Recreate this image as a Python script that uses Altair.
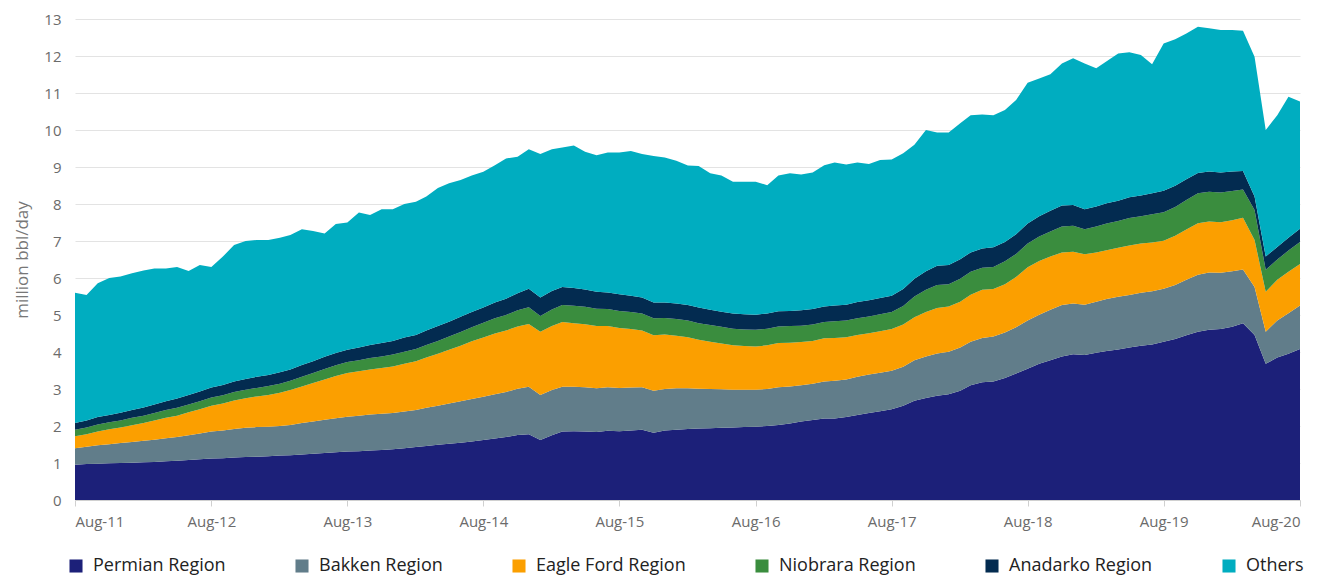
import altair as alt
import pandas as pd

regions = ["Permian Region", "Bakken Region", "Eagle Ford Region",
           "Niobrara Region", "Anadarko Region", "Others"]
colors = ["#1c2079", "#617d8a", "#fb9f00", "#3a8d3e", "#032b50", "#00adc0"]

# monthly, Aug-2011 .. Aug-2020 (million bbl/day)
permian = [0.95,0.97,0.98,0.99,1.0,1.01,1.02,1.03,1.05,1.06,1.08,1.1,
           1.12,1.13,1.15,1.16,1.17,1.18,1.2,1.21,1.23,1.25,1.27,1.29,
           1.31,1.32,1.34,1.35,1.37,1.4,1.43,1.46,1.49,1.52,1.55,1.58,
           1.62,1.66,1.7,1.76,1.78,1.62,1.75,1.85,1.86,1.85,1.84,1.87,
           1.86,1.88,1.9,1.82,1.88,1.9,1.92,1.93,1.94,1.95,1.96,1.97,
           1.98,2.0,2.03,2.07,2.12,2.16,2.2,2.2,2.24,2.3,2.35,2.4,
           2.45,2.55,2.68,2.76,2.82,2.86,2.95,3.1,3.18,3.2,3.3,3.42,
           3.55,3.68,3.78,3.88,3.94,3.92,3.98,4.03,4.07,4.12,4.17,4.2,
           4.28,4.35,4.45,4.55,4.6,4.62,4.68,4.78,4.46,3.68,3.85,3.95,4.08]
bakken = [0.45,0.47,0.5,0.52,0.54,0.56,0.58,0.6,0.62,0.64,0.67,0.7,
          0.73,0.75,0.77,0.79,0.8,0.8,0.8,0.82,0.85,0.87,0.9,0.92,
          0.94,0.96,0.97,0.98,0.98,0.99,1.0,1.03,1.06,1.09,1.12,1.15,
          1.17,1.2,1.22,1.25,1.28,1.22,1.22,1.21,1.2,1.2,1.18,1.18,
          1.17,1.16,1.15,1.13,1.12,1.12,1.1,1.08,1.06,1.04,1.02,1.01,
          1.0,1.0,1.02,1.0,0.98,0.98,1.0,1.02,1.02,1.03,1.04,1.04,
          1.04,1.05,1.1,1.12,1.14,1.15,1.17,1.18,1.2,1.22,1.23,1.25,
          1.3,1.33,1.36,1.39,1.37,1.36,1.38,1.4,1.42,1.42,1.43,1.44,
          1.43,1.46,1.5,1.54,1.55,1.52,1.5,1.45,1.3,0.87,1.0,1.1,1.18]
eagle_ford = [0.32,0.34,0.37,0.4,0.42,0.45,0.48,0.52,0.55,0.58,0.62,0.65,
              0.7,0.73,0.77,0.8,0.83,0.86,0.9,0.94,0.99,1.04,1.09,1.14,
              1.18,1.2,1.22,1.24,1.26,1.29,1.32,1.36,1.4,1.45,1.5,1.56,
              1.6,1.64,1.66,1.68,1.7,1.71,1.73,1.75,1.72,1.7,1.68,1.65,
              1.62,1.58,1.53,1.5,1.47,1.42,1.38,1.32,1.28,1.24,1.2,1.18,
              1.17,1.18,1.19,1.18,1.17,1.16,1.17,1.16,1.14,1.13,1.12,1.12,
              1.13,1.14,1.16,1.2,1.23,1.22,1.24,1.27,1.3,1.28,1.3,1.36,
              1.44,1.45,1.44,1.42,1.4,1.36,1.33,1.32,1.33,1.34,1.33,1.32,
              1.3,1.33,1.36,1.39,1.38,1.37,1.38,1.4,1.27,1.08,1.1,1.12,1.12]
niobrara = [0.18,0.18,0.19,0.19,0.19,0.2,0.2,0.2,0.21,0.21,0.21,0.22,
            0.22,0.22,0.23,0.23,0.23,0.24,0.24,0.25,0.26,0.27,0.28,0.29,
            0.3,0.3,0.31,0.31,0.32,0.33,0.33,0.34,0.35,0.36,0.37,0.38,
            0.4,0.41,0.42,0.44,0.45,0.42,0.45,0.46,0.47,0.47,0.47,0.46,
            0.46,0.46,0.46,0.46,0.45,0.45,0.45,0.45,0.45,0.45,0.45,0.45,
            0.45,0.45,0.45,0.45,0.44,0.44,0.44,0.45,0.45,0.45,0.45,0.46,
            0.46,0.5,0.56,0.6,0.62,0.6,0.62,0.62,0.6,0.6,0.62,0.62,
            0.64,0.66,0.68,0.7,0.7,0.68,0.7,0.72,0.72,0.74,0.74,0.76,
            0.77,0.78,0.8,0.81,0.8,0.8,0.79,0.76,0.81,0.59,0.55,0.57,0.59]
anadarko = [0.18,0.19,0.2,0.2,0.21,0.21,0.22,0.23,0.24,0.25,0.26,0.26,
            0.27,0.28,0.28,0.29,0.3,0.3,0.31,0.31,0.32,0.32,0.33,0.33,
            0.33,0.34,0.35,0.36,0.37,0.38,0.38,0.39,0.4,0.4,0.41,0.41,
            0.41,0.43,0.44,0.46,0.5,0.5,0.5,0.49,0.48,0.47,0.46,0.45,
            0.45,0.44,0.43,0.43,0.42,0.42,0.42,0.42,0.41,0.41,0.41,0.41,
            0.41,0.41,0.41,0.41,0.42,0.42,0.42,0.43,0.43,0.44,0.44,0.44,
            0.44,0.46,0.48,0.5,0.52,0.52,0.53,0.52,0.52,0.53,0.52,0.53,
            0.54,0.55,0.56,0.57,0.56,0.54,0.54,0.55,0.55,0.56,0.56,0.57,
            0.58,0.57,0.56,0.55,0.55,0.54,0.53,0.5,0.36,0.36,0.34,0.35,0.36]
others = [3.52,3.39,3.62,3.70,3.68,3.70,3.70,3.68,3.59,3.56,3.35,3.42,
          3.26,3.47,3.69,3.73,3.70,3.65,3.64,3.63,3.67,3.52,3.33,3.49,
          3.44,3.65,3.51,3.62,3.56,3.61,3.60,3.62,3.73,3.74,3.70,3.69,
          3.67,3.71,3.79,3.69,3.77,3.88,3.83,3.77,3.85,3.72,3.69,3.78,
          3.83,3.91,3.88,3.96,3.92,3.86,3.77,3.83,3.69,3.68,3.56,3.58,
          3.59,3.47,3.67,3.72,3.67,3.69,3.82,3.86,3.79,3.77,3.68,3.73,
          3.68,3.67,3.62,3.82,3.60,3.58,3.67,3.71,3.62,3.57,3.57,3.63,
          3.81,3.72,3.69,3.84,3.97,3.94,3.74,3.84,3.98,3.92,3.80,3.49,
          3.98,3.96,3.94,3.95,3.87,3.85,3.82,3.79,3.78,3.42,3.56,3.81,3.44]

tick_years = list(range(2011, 2021))

months = []
for k in range(len(permian)):
    y = 2011 + (7 + k) // 12
    m = (7 + k) % 12 + 1
    months.append(f"{y}-{m:02d}-01")

series = [permian, bakken, eagle_ford, niobrara, anadarko, others]
rows = []
for idx, (name, vals) in enumerate(zip(regions, series)):
    for mo, v in zip(months, vals):
        rows.append({"month": mo, "region": name, "value": v, "order": idx})
df = pd.DataFrame(rows)

FONT = "Open Sans"

chart = alt.Chart(df).mark_area(interpolate="linear").encode(
    x=alt.X(
        "month:T",
        scale=alt.Scale(
            type="utc",
            domain=[alt.DateTime(year=2011, month=8, date=1, utc=True),
                    alt.DateTime(year=2020, month=8, date=1, utc=True)],
            nice=False,
        ),
        axis=alt.Axis(
            title=None,
            values=[alt.DateTime(year=yy, month=8, date=1, utc=True) for yy in tick_years],
            format="%b-%y",
            labelFont=FONT, labelFontSize=15, labelColor="#6b6b6b",
            labelPadding=8, tickColor="#d0d0d0", tickSize=6,
            domainColor="#d0d0d0", grid=False,
        ),
    ),
    y=alt.Y(
        "value:Q",
        stack="zero",
        scale=alt.Scale(domain=[0, 13], nice=False),
        axis=alt.Axis(
            title="million bbl/day",
            values=list(range(0, 14)),
            titleFont=FONT, titleFontSize=17, titleFontWeight="normal",
            titleColor="#777777", titlePadding=12,
            labelFont=FONT, labelFontSize=15, labelColor="#6b6b6b",
            labelPadding=14, domain=False, ticks=False,
            gridColor="#e3e3e3", gridWidth=1.2,
        ),
    ),
    color=alt.Color(
        "region:N",
        scale=alt.Scale(domain=regions, range=colors),
        legend=alt.Legend(
            title=None, orient="none", direction="horizontal",
            legendX=-8, legendY=538,
            symbolType="square", symbolSize=170, symbolStrokeWidth=0,
            labelFont=FONT, labelFontSize=18, labelColor="#222222",
            columnPadding=67, labelOffset=8,
        ),
    ),
    order=alt.Order("order:Q", sort="ascending"),
).properties(
    width=1225, height=481,
    autosize=alt.AutoSizeParams(type="none"),
    padding={"left": 67, "top": 11, "right": 27, "bottom": 80},
).configure_view(stroke=None)

chart.save("out.html", embed_options={"renderer": "svg", "actions": False})
